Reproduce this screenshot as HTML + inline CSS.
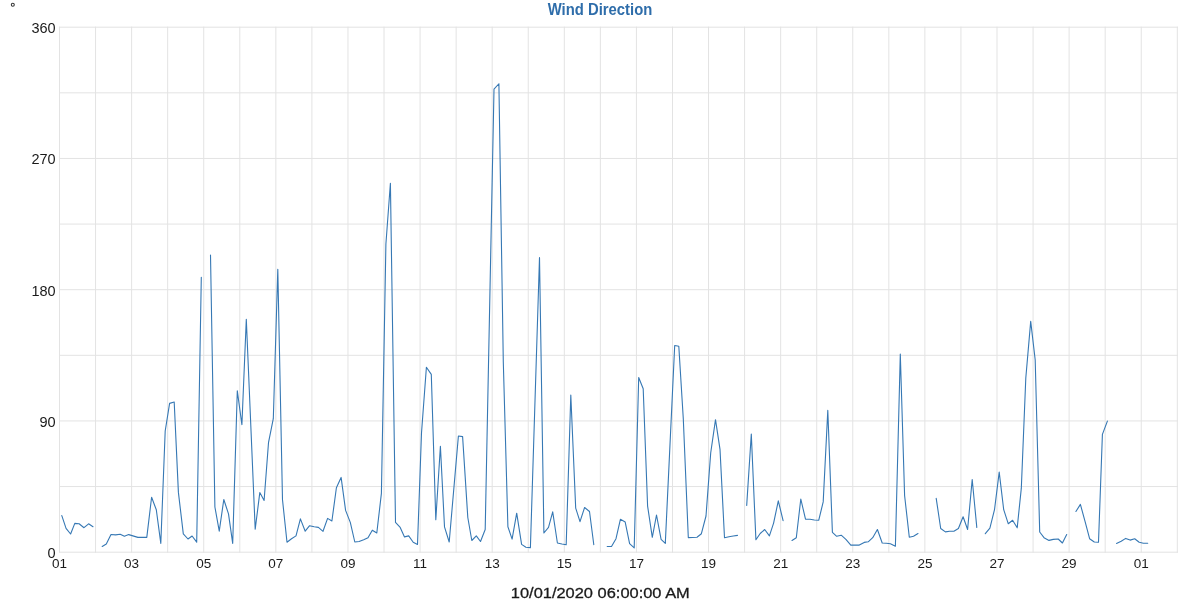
<!DOCTYPE html>
<html><head><meta charset="utf-8"><title>Wind Direction</title>
<style>
html,body{margin:0;padding:0;background:#fff;}
body{width:1200px;height:600px;overflow:hidden;font-family:"Liberation Sans",sans-serif;}
svg{display:block;will-change:transform;}
.grid line{stroke:#e3e3e3;stroke-width:1;}
.series path{fill:none;stroke:#3678b4;stroke-width:1.1;stroke-linejoin:round;stroke-linecap:round;}
.ylab text{font-size:15px;fill:#1a1a1a;}
.xlab text{font-size:13.5px;fill:#1a1a1a;}
</style></head>
<body>
<svg width="1200" height="600" viewBox="0 0 1200 600">
<rect width="1200" height="600" fill="#fff"/>
<g class="grid">
<line x1="59.50" y1="26.7" x2="59.50" y2="552.7" />
<line x1="95.56" y1="26.7" x2="95.56" y2="552.7" />
<line x1="131.62" y1="26.7" x2="131.62" y2="552.7" />
<line x1="167.67" y1="26.7" x2="167.67" y2="552.7" />
<line x1="203.73" y1="26.7" x2="203.73" y2="552.7" />
<line x1="239.79" y1="26.7" x2="239.79" y2="552.7" />
<line x1="275.85" y1="26.7" x2="275.85" y2="552.7" />
<line x1="311.91" y1="26.7" x2="311.91" y2="552.7" />
<line x1="347.96" y1="26.7" x2="347.96" y2="552.7" />
<line x1="384.02" y1="26.7" x2="384.02" y2="552.7" />
<line x1="420.08" y1="26.7" x2="420.08" y2="552.7" />
<line x1="456.14" y1="26.7" x2="456.14" y2="552.7" />
<line x1="492.20" y1="26.7" x2="492.20" y2="552.7" />
<line x1="528.25" y1="26.7" x2="528.25" y2="552.7" />
<line x1="564.31" y1="26.7" x2="564.31" y2="552.7" />
<line x1="600.37" y1="26.7" x2="600.37" y2="552.7" />
<line x1="636.43" y1="26.7" x2="636.43" y2="552.7" />
<line x1="672.49" y1="26.7" x2="672.49" y2="552.7" />
<line x1="708.54" y1="26.7" x2="708.54" y2="552.7" />
<line x1="744.60" y1="26.7" x2="744.60" y2="552.7" />
<line x1="780.66" y1="26.7" x2="780.66" y2="552.7" />
<line x1="816.72" y1="26.7" x2="816.72" y2="552.7" />
<line x1="852.78" y1="26.7" x2="852.78" y2="552.7" />
<line x1="888.83" y1="26.7" x2="888.83" y2="552.7" />
<line x1="924.89" y1="26.7" x2="924.89" y2="552.7" />
<line x1="960.95" y1="26.7" x2="960.95" y2="552.7" />
<line x1="997.01" y1="26.7" x2="997.01" y2="552.7" />
<line x1="1033.07" y1="26.7" x2="1033.07" y2="552.7" />
<line x1="1069.12" y1="26.7" x2="1069.12" y2="552.7" />
<line x1="1105.18" y1="26.7" x2="1105.18" y2="552.7" />
<line x1="1141.24" y1="26.7" x2="1141.24" y2="552.7" />
<line x1="1177.30" y1="26.7" x2="1177.30" y2="552.7" />
<line x1="59" y1="27.20" x2="1178" y2="27.20" />
<line x1="59" y1="92.83" x2="1178" y2="92.83" />
<line x1="59" y1="158.45" x2="1178" y2="158.45" />
<line x1="59" y1="224.07" x2="1178" y2="224.07" />
<line x1="59" y1="289.70" x2="1178" y2="289.70" />
<line x1="59" y1="355.32" x2="1178" y2="355.32" />
<line x1="59" y1="420.95" x2="1178" y2="420.95" />
<line x1="59" y1="486.57" x2="1178" y2="486.57" />
<line x1="59" y1="552.20" x2="1178" y2="552.20" />
</g>
<g class="series">
<path d="M61.80,515.60 L66.05,528.40 L70.60,534.00 L74.80,523.40 L79.10,523.80 L84.00,527.70 L88.60,523.80 L93.00,526.70" />
<path d="M102.20,546.50 L106.30,544.00 L111.00,534.50 L115.60,534.90 L120.20,534.20 L124.40,536.20 L128.70,534.60 L132.90,535.90 L137.90,537.40 L142.50,537.40 L146.80,537.40 L151.60,497.20 L156.30,509.70 L160.80,543.40 L165.20,431.00 L169.60,403.40 L174.20,402.00 L178.40,492.40 L183.30,533.90 L188.00,539.00 L192.10,536.00 L196.70,542.20 L201.30,277.30" />
<path d="M210.50,255.00 L214.90,507.00 L219.25,531.20 L223.80,499.50 L228.50,513.90 L232.70,543.40 L237.30,390.70 L241.90,424.80 L246.30,319.20 L255.20,529.30 L259.80,492.60 L264.10,500.50 L268.50,442.70 L273.30,418.70 L277.80,269.20 L282.50,499.80 L287.00,542.20 L291.50,538.70 L296.00,535.90 L300.40,518.90 L305.20,531.20 L309.60,525.70 L314.20,526.70 L318.40,527.40 L323.00,531.30 L327.60,518.40 L331.90,521.00 L336.40,487.70 L341.10,477.40 L345.60,510.40 L350.30,522.40 L354.80,542.00 L359.10,541.50 L363.70,539.70 L368.00,537.70 L372.30,530.20 L376.80,533.00 L381.40,493.40 L385.90,244.00 L390.40,183.20 L395.50,522.40 L400.20,527.40 L404.50,536.90 L408.70,535.90 L413.20,542.20 L417.50,544.40 L421.50,433.00 L426.40,367.20 L431.30,374.40 L435.80,519.70 L440.40,446.30 L444.50,526.80 L449.20,542.00 L458.40,436.00 L462.60,436.60 L467.80,517.50 L471.80,540.50 L476.30,535.90 L480.50,541.50 L485.20,529.50 L494.00,89.20 L498.90,83.75 L503.30,362.00 L507.90,526.70 L512.10,539.10 L516.70,513.20 L521.60,544.40 L525.90,547.20 L530.40,547.60 L539.50,257.50 L543.90,533.00 L548.50,527.40 L552.70,511.80 L557.40,543.00 L561.90,544.00 L566.20,544.80 L570.80,395.00 L575.70,508.20 L580.00,521.70 L584.60,507.50 L589.50,511.50 L593.80,544.70" />
<path d="M607.20,546.50 L611.50,546.50 L616.00,538.70 L620.40,519.30 L625.20,522.10 L629.60,543.70 L634.20,547.90 L638.70,377.50 L643.20,388.70 L647.60,506.10 L652.30,537.30 L656.50,515.00 L661.10,539.40 L665.30,543.40 L674.70,345.50 L678.80,346.30 L683.30,419.00 L688.30,537.60 L692.50,537.50 L697.00,537.30 L701.40,533.70 L706.00,516.00 L710.70,453.00 L715.50,419.70 L720.00,449.30 L724.50,537.70 L729.00,536.80 L733.30,536.00 L737.50,535.40" />
<path d="M746.70,505.40 L751.30,434.00 L755.90,539.70 L760.20,533.50 L764.70,529.50 L769.40,535.90 L773.60,523.10 L778.30,500.90 L783.10,520.60" />
<path d="M792.00,540.50 L796.30,537.70 L800.80,499.00 L805.50,519.20 L810.00,519.30 L814.40,520.00 L818.70,520.30 L823.20,501.90 L827.80,410.40 L832.40,532.30 L836.70,536.30 L841.20,535.20 L845.90,539.40 L850.80,545.10 L855.10,545.10 L859.30,545.10 L864.20,542.40 L868.20,541.80 L872.70,537.70 L877.40,529.50 L882.20,543.00 L886.20,543.20 L890.40,543.70 L895.40,546.20 L900.30,354.00 L904.60,495.50 L909.30,537.30 L913.50,536.20 L918.00,533.50" />
<path d="M936.20,498.30 L940.70,528.50 L945.40,531.90 L949.60,531.20 L953.90,531.20 L958.40,528.50 L963.10,516.70 L967.60,529.50 L972.20,479.50 L976.80,527.40" />
<path d="M985.30,533.70 L989.90,528.10 L994.50,509.70 L999.20,472.10 L1003.70,509.70 L1008.30,523.80 L1012.60,520.30 L1017.20,527.80 L1021.30,488.40 L1025.80,378.00 L1030.70,321.40 L1035.20,360.00 L1039.70,532.00 L1044.00,537.70 L1049.00,540.40 L1053.20,539.40 L1058.20,539.00 L1062.40,543.00 L1066.70,534.50" />
<path d="M1075.90,511.50 L1080.40,504.40 L1085.10,521.70 L1089.60,538.70 L1094.30,542.00 L1098.50,542.20 L1102.40,434.40 L1107.40,421.10" />
<path d="M1116.50,543.40 L1121.20,541.30 L1125.70,538.40 L1130.10,540.10 L1134.70,538.70 L1139.20,542.20 L1143.40,543.20 L1147.70,543.20" />
</g>
<g class="ylab">
<text x="55.6" y="33.2" text-anchor="end" textLength="24.2" lengthAdjust="spacingAndGlyphs">360</text>
<text x="55.6" y="164.4" text-anchor="end" textLength="24.2" lengthAdjust="spacingAndGlyphs">270</text>
<text x="55.6" y="295.7" text-anchor="end" textLength="24.2" lengthAdjust="spacingAndGlyphs">180</text>
<text x="55.6" y="426.9" text-anchor="end" textLength="16.2" lengthAdjust="spacingAndGlyphs">90</text>
<text x="55.6" y="558.2" text-anchor="end" textLength="8.1" lengthAdjust="spacingAndGlyphs">0</text>
</g>
<g class="xlab">
<text x="59.5" y="568" text-anchor="middle">01</text>
<text x="131.6" y="568" text-anchor="middle">03</text>
<text x="203.7" y="568" text-anchor="middle">05</text>
<text x="275.8" y="568" text-anchor="middle">07</text>
<text x="348.0" y="568" text-anchor="middle">09</text>
<text x="420.1" y="568" text-anchor="middle">11</text>
<text x="492.2" y="568" text-anchor="middle">13</text>
<text x="564.3" y="568" text-anchor="middle">15</text>
<text x="636.4" y="568" text-anchor="middle">17</text>
<text x="708.5" y="568" text-anchor="middle">19</text>
<text x="780.7" y="568" text-anchor="middle">21</text>
<text x="852.8" y="568" text-anchor="middle">23</text>
<text x="924.9" y="568" text-anchor="middle">25</text>
<text x="997.0" y="568" text-anchor="middle">27</text>
<text x="1069.1" y="568" text-anchor="middle">29</text>
<text x="1141.2" y="568" text-anchor="middle">01</text>
</g>
<circle cx="12.8" cy="4.8" r="1.5" fill="none" stroke="#333" stroke-width="1.05"/>
<text x="600" y="15" text-anchor="middle" font-size="16" font-weight="bold" fill="#2e6daa" textLength="104.5" lengthAdjust="spacingAndGlyphs">Wind Direction</text>
<text x="600.3" y="598.4" text-anchor="middle" font-size="15.5" fill="#1a1a1a" stroke="#1a1a1a" stroke-width="0.3" textLength="179" lengthAdjust="spacingAndGlyphs">10/01/2020 06:00:00 AM</text>
</svg>
</body></html>
